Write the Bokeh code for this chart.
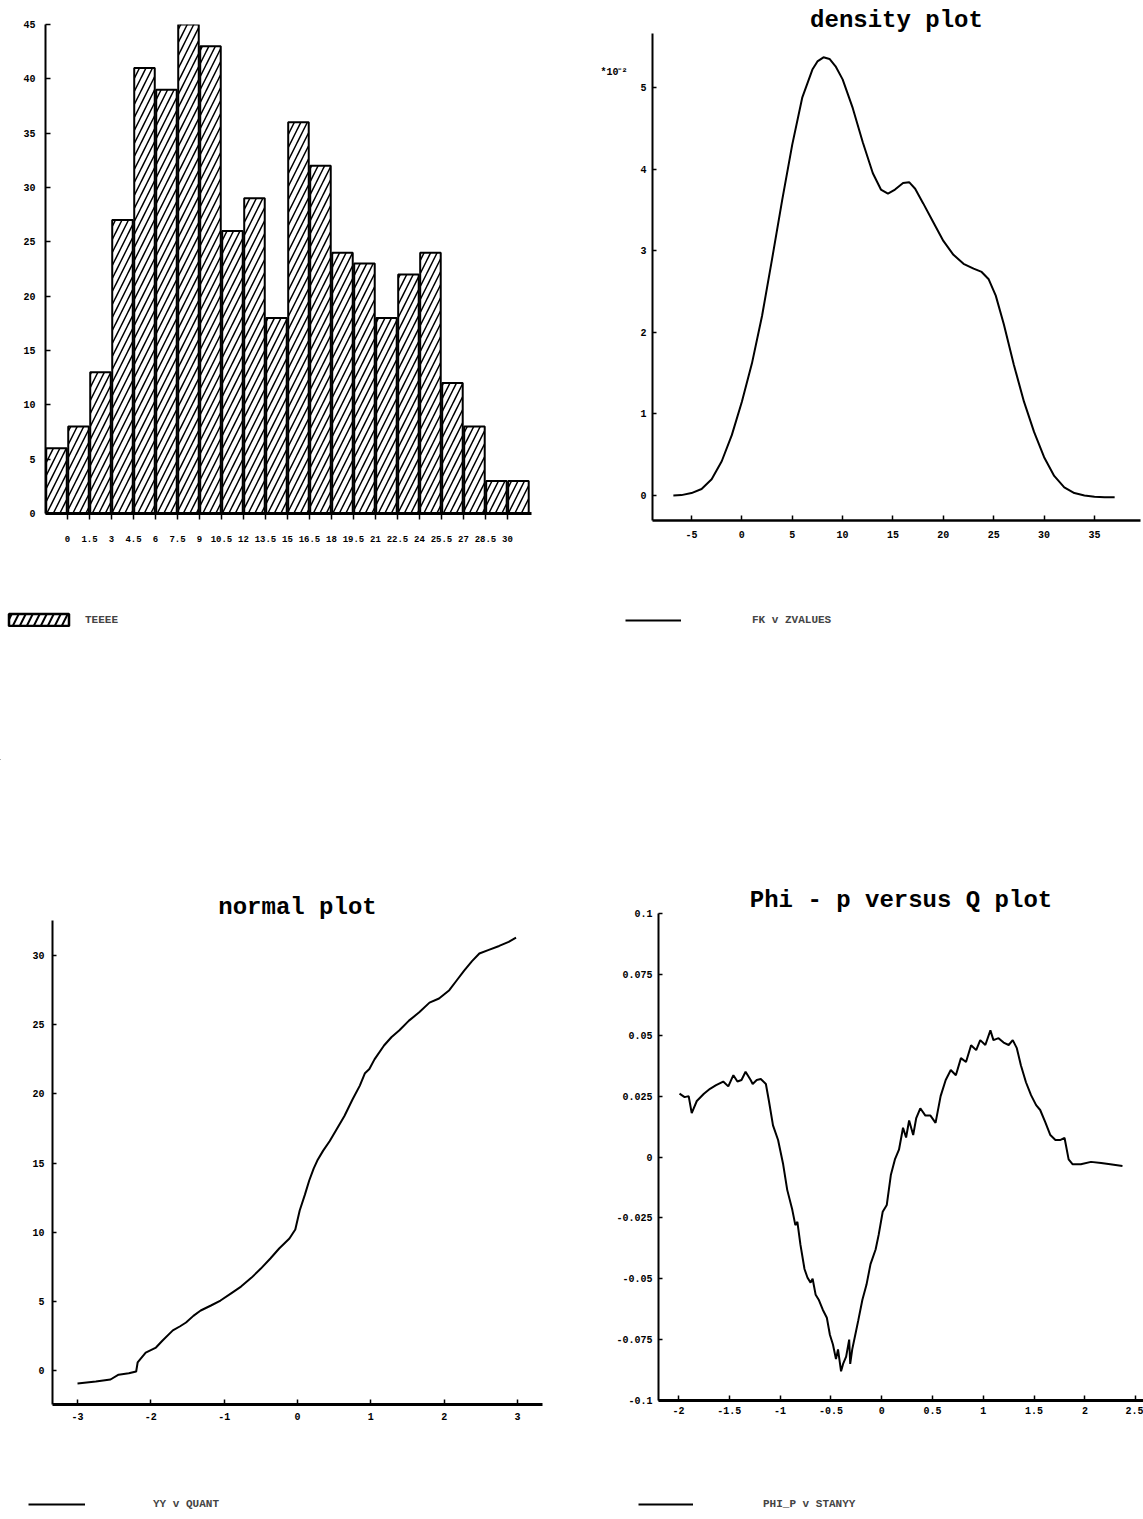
from bokeh.plotting import figure
from bokeh.layouts import column, row
from bokeh.models import Range1d, FixedTicker, Legend, LegendItem, LinearAxis
from bokeh.embed import file_html
from bokeh.resources import INLINE

# ---------------- data ----------------
# histogram (bins of width 1.5)
hist_centers = [-0.75, 0.75, 2.25, 3.75, 5.25, 6.75, 8.25, 9.75, 11.25, 12.75, 14.25,
                15.75, 17.25, 18.75, 20.25, 21.75, 23.25, 24.75, 26.25, 27.75, 29.25, 30.75]
hist_counts = [6, 8, 13, 27, 41, 39, 45, 43, 26, 29, 18, 36, 32, 24, 23, 18, 22, 24, 12, 8, 3, 3]
hist_xticks = [0, 1.5, 3, 4.5, 6, 7.5, 9, 10.5, 12, 13.5, 15, 16.5, 18, 19.5, 21, 22.5, 24,
               25.5, 27, 28.5, 30]
hist_xlabels = ["0", "1.5", "3", "4.5", "6", "7.5", "9", "10.5", "12", "13.5", "15", "16.5",
                "18", "19.5", "21", "22.5", "24", "25.5", "27", "28.5", "30"]
hist_yticks = [0, 5, 10, 15, 20, 25, 30, 35, 40, 45]
hist_legend = "TEEEE"

# density (values in units of 10^-2)
dens_x = [-6.8, -6.0, -5.0, -4.0, -3.0, -2.0, -1.0, 0.0, 1.0, 2.0, 3.0, 4.0, 5.0, 6.0, 7.0,
          7.5, 8.1, 8.7, 9.3, 10.0, 11.0, 12.0, 13.0, 13.8, 14.5, 15.2, 16.0, 16.6, 17.2,
          18.0, 19.0, 20.0, 21.0, 22.0, 23.0, 23.8, 24.5, 25.2, 26.0, 27.0, 28.0, 29.0,
          30.0, 31.0, 32.0, 33.0, 34.0, 35.0, 36.0, 37.0]
dens_y = [0.0, 0.005, 0.03, 0.08, 0.2, 0.42, 0.74, 1.15, 1.62, 2.2, 2.9, 3.62, 4.3, 4.88,
          5.22, 5.32, 5.37, 5.35, 5.26, 5.1, 4.75, 4.33, 3.95, 3.75, 3.7, 3.75, 3.83, 3.84,
          3.76, 3.58, 3.35, 3.12, 2.95, 2.84, 2.78, 2.74, 2.65, 2.45, 2.1, 1.6, 1.15, 0.78,
          0.47, 0.24, 0.1, 0.03, 0.0, -0.015, -0.02, -0.02]
dens_xticks = [-5, 0, 5, 10, 15, 20, 25, 30, 35]
dens_yticks = [0, 1, 2, 3, 4, 5]
dens_scale_label = "*10\u207b\u00b2"
dens_legend = "FK v ZVALUES"

# normal plot
norm_x = [-3.0, -2.75, -2.55, -2.44, -2.3, -2.2, -2.18, -2.07, -1.93, -1.84, -1.7, -1.6, -1.52,
          -1.42, -1.32, -1.18, -1.05, -0.9, -0.77, -0.63, -0.5, -0.37, -0.25, -0.11, -0.03,
          0.03, 0.1, 0.16, 0.22, 0.27, 0.35, 0.44, 0.54, 0.64, 0.75, 0.85, 0.92, 0.98, 1.05,
          1.18, 1.28, 1.39, 1.52, 1.66, 1.8, 1.93, 2.07, 2.17, 2.27, 2.38, 2.48, 2.6, 2.75,
          2.88, 2.98]
norm_y = [-0.94, -0.8, -0.65, -0.3, -0.2, -0.07, 0.58, 1.3, 1.66, 2.17, 2.9, 3.2, 3.47, 3.95,
          4.34, 4.7, 5.06, 5.6, 6.07, 6.7, 7.37, 8.1, 8.82, 9.54, 10.2, 11.57, 12.7, 13.74,
          14.6, 15.18, 15.9, 16.6, 17.5, 18.4, 19.6, 20.6, 21.5, 21.8, 22.5, 23.5, 24.1,
          24.6, 25.3, 25.9, 26.6, 26.9, 27.5, 28.2, 28.9, 29.6, 30.15, 30.4, 30.7, 31.0, 31.3]
norm_xticks = [-3, -2, -1, 0, 1, 2, 3]
norm_yticks = [0, 5, 10, 15, 20, 25, 30]
norm_legend = "YY v QUANT"

# Phi - p versus Q
phi_x = [-1.99, -1.94, -1.90, -1.87, -1.82, -1.75, -1.69, -1.63, -1.56, -1.51, -1.46, -1.42,
         -1.38, -1.34, -1.29, -1.27, -1.23, -1.19, -1.14, -1.11, -1.07, -1.02, -0.97, -0.93,
         -0.88, -0.85, -0.83, -0.80, -0.76, -0.73, -0.70, -0.68, -0.65, -0.62, -0.58, -0.54,
         -0.51, -0.48, -0.45, -0.43, -0.40, -0.38, -0.35, -0.32, -0.31, -0.29, -0.26, -0.23,
         -0.19, -0.15, -0.11, -0.06, -0.03, 0.01, 0.05, 0.09, 0.13, 0.17, 0.21, 0.24, 0.27,
         0.31, 0.34, 0.38, 0.43, 0.48, 0.53, 0.58, 0.63, 0.68, 0.73, 0.78, 0.83, 0.88, 0.93,
         0.97, 1.02, 1.07, 1.10, 1.15, 1.20, 1.25, 1.29, 1.33, 1.37, 1.42, 1.47, 1.52, 1.56,
         1.61, 1.66, 1.71, 1.76, 1.80, 1.84, 1.88, 1.96, 2.06, 2.16, 2.25, 2.37]
phi_y = [0.026, 0.0246, 0.025, 0.018, 0.023, 0.026, 0.028, 0.0295, 0.031, 0.029, 0.0336, 0.031,
         0.0316, 0.035, 0.0316, 0.030, 0.0316, 0.032, 0.030, 0.023, 0.013, 0.007, -0.003,
         -0.0135, -0.0217, -0.028, -0.0266, -0.036, -0.046, -0.0496, -0.0516, -0.050, -0.0566,
         -0.0586, -0.0627, -0.066, -0.073, -0.077, -0.083, -0.079, -0.088, -0.085, -0.082,
         -0.075, -0.085, -0.079, -0.073, -0.067, -0.0586, -0.0525, -0.044, -0.038, -0.032,
         -0.0225, -0.0197, -0.0074, -0.001, 0.003, 0.012, 0.008, 0.015, 0.009, 0.016, 0.020,
         0.017, 0.017, 0.014, 0.025, 0.0316, 0.0357, 0.0336, 0.0406, 0.039, 0.0459, 0.0439,
         0.048, 0.046, 0.052, 0.048, 0.0488, 0.047, 0.046, 0.048, 0.0447, 0.0377, 0.0307,
         0.0254, 0.0213, 0.0193, 0.0143, 0.009, 0.007, 0.007, 0.0078, -0.001, -0.003, -0.003,
         -0.002, -0.0025, -0.003, -0.0037]
phi_xticks = [-2, -1.5, -1, -0.5, 0, 0.5, 1, 1.5, 2, 2.5]
phi_xlabels = ["-2", "-1.5", "-1", "-0.5", "0", "0.5", "1", "1.5", "2", "2.5"]
phi_yticks = [-0.1, -0.075, -0.05, -0.025, 0, 0.025, 0.05, 0.075, 0.1]
phi_ylabels = ["-0.1", "-0.075", "-0.05", "-0.025", "0", "0.025", "0.05", "0.075", "0.1"]
phi_legend = "PHI_P v STANYY"

TICK_FONT = "Liberation Mono"
TITLE_FONT = "Liberation Mono"
OFF = -60.0   # just outside the strip's visible range, for legend-only renderers


def make_fig(w, h, xr, yr, left, right, top, bottom, title=""):
    p = figure(width=w, height=h, x_range=Range1d(*xr), y_range=Range1d(*yr),
               output_backend="svg", toolbar_location=None,
               min_border_left=left, min_border_right=right,
               min_border_top=top, min_border_bottom=bottom)
    p.grid.visible = False
    p.outline_line_color = None
    p.background_fill_color = "white"
    p.border_fill_color = "white"
    p.title.text = title
    p.title.align = "center"
    p.title.standoff = 0
    p.title.text_font = TITLE_FONT
    p.title.text_font_style = "bold"
    p.title.text_font_size = "24px"
    p.title.text_color = "black"
    return p


def make_strip(w, h):
    s = figure(width=w, height=h, x_range=Range1d(0, w), y_range=Range1d(0, h),
               output_backend="svg", toolbar_location=None,
               x_axis_location=None, y_axis_location=None,
               min_border_left=0, min_border_right=0, min_border_top=0, min_border_bottom=0)
    s.grid.visible = False
    s.outline_line_color = None
    s.background_fill_color = "white"
    s.border_fill_color = "white"
    return s


def style_axis(ax, ticks, labels, tick_in, tick_out, standoff, lw):
    ax.ticker = FixedTicker(ticks=ticks)
    ax.major_label_overrides = {t: s for t, s in zip(ticks, labels)}
    ax.minor_tick_line_color = None
    ax.major_tick_in = tick_in
    ax.major_tick_out = tick_out
    ax.major_tick_line_width = 1.5
    ax.major_tick_line_color = "black"
    ax.axis_line_width = lw
    ax.axis_line_color = "black"
    ax.major_label_text_font = TICK_FONT
    ax.major_label_text_font_style = "bold"
    ax.major_label_text_font_size = "10px"
    ax.major_label_text_color = "black"
    ax.major_label_standoff = standoff


def add_legend(s, renderer, text, loc, standoff, gw, gh=12):
    leg = Legend(items=[LegendItem(label=text, renderers=[renderer])], location=loc,
                 orientation="horizontal", border_line_color=None,
                 background_fill_alpha=0, padding=0, margin=0, spacing=0,
                 glyph_width=gw, glyph_height=gh, label_standoff=standoff,
                 label_text_font=TICK_FONT, label_text_font_style="bold",
                 label_text_font_size="11px", label_height=gh)
    s.add_layout(leg, "center")


# ---------------- panel 1: histogram ----------------
p1 = make_fig(571, 580, (-1.5, 31.64), (0, 45), 45, 40, 24, 67)
p1.vbar(x=hist_centers, top=hist_counts, width=1.4, bottom=0,
        fill_color="white", line_color="black", line_width=2,
        hatch_pattern="/", hatch_color="black", hatch_weight=1.5, hatch_scale=13)
style_axis(p1.xaxis[0], hist_xticks, hist_xlabels, 0, 6, 16, 3)
style_axis(p1.yaxis[0], hist_yticks, [str(v) for v in hist_yticks], 5, 0, 10, 2)
p1.xaxis[0].major_label_text_font_size = "9px"

s1 = make_strip(571, 180)
r1 = s1.vbar(x=[OFF], top=[OFF], bottom=[OFF], width=1, fill_color="white",
             line_color="black", line_width=2.5, hatch_pattern="/", hatch_color="black",
             hatch_weight=2, hatch_scale=14)
add_legend(s1, r1, hist_legend, (1, 133), 9, 75, 15)

# ---------------- panel 2: density ----------------
p2 = make_fig(572, 580, (-8.871, 39.566), (-0.306, 5.662), 81, 3, 33, 60, "density plot")
p2.line(dens_x, dens_y, line_color="black", line_width=2)
style_axis(p2.xaxis[0], dens_xticks, [str(v) for v in dens_xticks], 5, 0, 10, 2.5)
style_axis(p2.yaxis[0], dens_yticks, [str(v) for v in dens_yticks], 4, 0, 6, 2)
scale_axis = LinearAxis(ticker=FixedTicker(ticks=[5.18]),
                        major_label_overrides={5.18: dens_scale_label},
                        axis_line_color=None, major_tick_line_color=None,
                        minor_tick_line_color=None, major_tick_in=0, major_tick_out=0,
                        major_label_standoff=10, major_label_text_font=TICK_FONT,
                        major_label_text_font_style="bold", major_label_text_font_size="10px",
                        major_label_text_color="black")
p2.add_layout(scale_axis, "left")

s2 = make_strip(572, 180)
r2 = s2.line(x=[OFF, OFF], y=[OFF, OFF], line_color="black", line_width=2)
add_legend(s2, r2, dens_legend, (54, 134), 71, 56)

# ---------------- panel 3: normal plot ----------------
p3 = make_fig(571, 700, (-3.341, 3.341), (-2.458, 32.54), 52, 29, 160, 56, "normal plot")
p3.line(norm_x, norm_y, line_color="black", line_width=2)
style_axis(p3.xaxis[0], norm_xticks, [str(v) for v in norm_xticks], 5, 0, 8, 3)
style_axis(p3.yaxis[0], norm_yticks, [str(v) for v in norm_yticks], 4, 0, 8, 2)

s3 = make_strip(571, 59)
r3 = s3.line(x=[OFF, OFF], y=[OFF, OFF], line_color="black", line_width=2)
add_legend(s3, r3, norm_legend, (28, 9), 68, 57)

# ---------------- panel 4: Phi - p versus Q ----------------
p4 = make_fig(572, 700, (-2.197, 2.577), (-0.1, 0.1), 87, 0, 153, 60, "Phi - p versus Q plot")
p4.line(phi_x, phi_y, line_color="black", line_width=2)
style_axis(p4.xaxis[0], phi_xticks, phi_xlabels, 5, 0, 6, 3)
style_axis(p4.yaxis[0], phi_yticks, phi_ylabels, 4, 0, 6, 2)

s4 = make_strip(572, 59)
r4 = s4.line(x=[OFF, OFF], y=[OFF, OFF], line_color="black", line_width=2)
add_legend(s4, r4, phi_legend, (67, 9), 70, 55)

# wrap each piece so that Bokeh does not align the frames of neighbouring plots
layout = column(row(column(row(p1), row(s1)), column(row(p2), row(s2))),
                row(column(row(p3), row(s3)), column(row(p4), row(s4))))

with open("out.html", "w") as f:
    f.write(file_html(layout, INLINE))
